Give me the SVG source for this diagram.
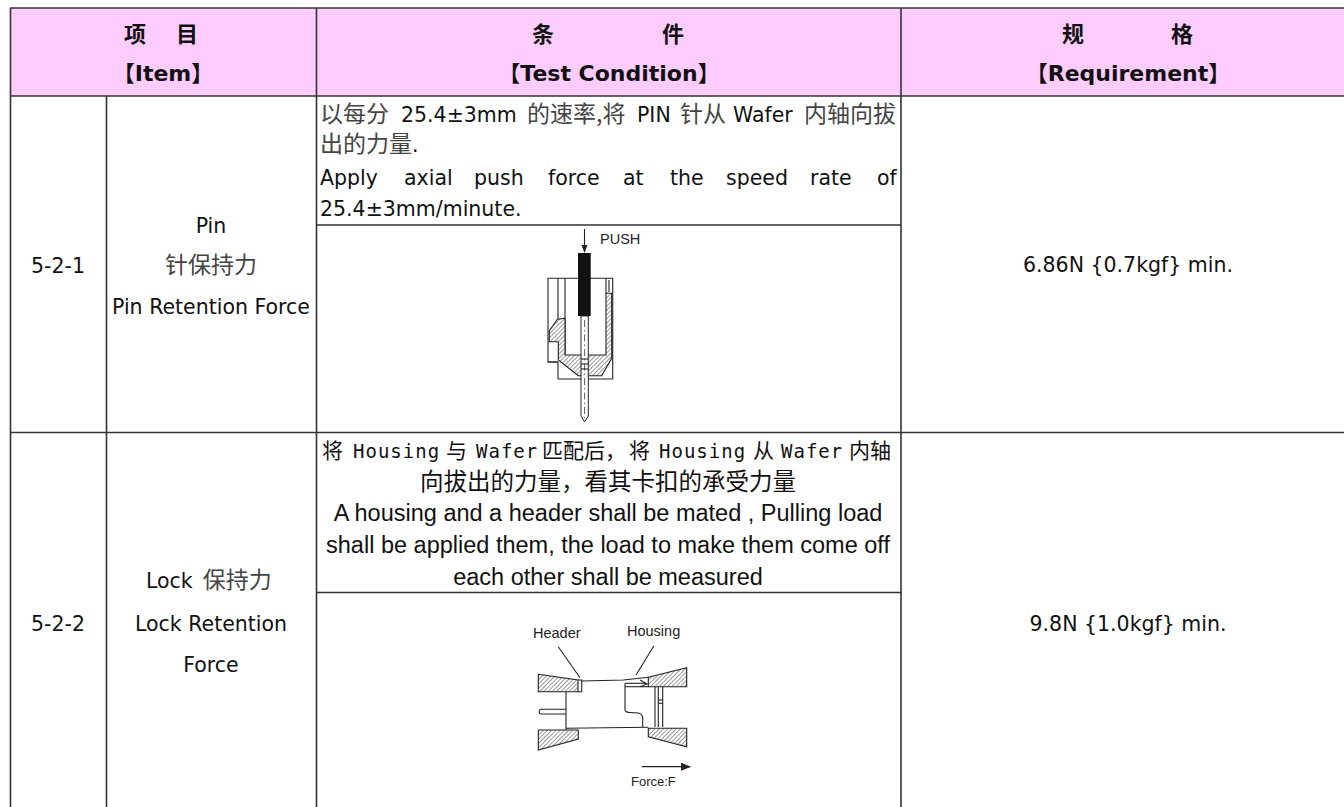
<svg xmlns="http://www.w3.org/2000/svg" width="1344" height="807" viewBox="0 0 1344 807">
<style>
.grid{stroke:#333;stroke-width:1.6;fill:none}
.t{font-family:"DejaVu Sans","Noto Sans CJK SC",sans-serif;font-size:20.5px;fill:#111}
.cn{font-family:"Noto Sans CJK SC",sans-serif;font-size:23px;fill:#444}
.hd{font-family:"DejaVu Sans","Noto Sans CJK SC",sans-serif;font-size:22px;font-weight:bold;fill:#111}
.hcn{font-family:"Noto Sans CJK SC",sans-serif;font-size:22px;font-weight:bold;fill:#111}
.ar{font-family:"Liberation Sans",Arial,"Noto Sans CJK SC",sans-serif;font-size:23.5px;fill:#111}
.mono{font-family:"DejaVu Sans Mono",monospace;font-size:19px;letter-spacing:1px;fill:#111}
.cn2{font-family:"Noto Sans CJK SC",sans-serif;font-size:21px;fill:#111}
.lbl{font-family:"Liberation Sans",Arial,sans-serif;font-size:14.5px;fill:#222}
.dw{stroke:#222;stroke-width:1.1;fill:none}
.hat{fill:url(#hatch);stroke:#222;stroke-width:1.1}
</style>
<defs>
<pattern id="hatch" patternUnits="userSpaceOnUse" width="3" height="3" patternTransform="rotate(45)">
<rect width="3" height="3" fill="#fff"/>
<line x1="0" y1="0" x2="0" y2="3" stroke="#333" stroke-width="1"/>
</pattern>
<marker id="ah" markerWidth="10" markerHeight="8" refX="9" refY="4" orient="auto" markerUnits="userSpaceOnUse">
<path d="M0,0 L10,4 L0,8 Z" fill="#222"/>
</marker>
</defs>

<g id="header">
<rect x="10.5" y="8" width="1350" height="88" fill="#FFCCFF"/>
<text class="hcn" x="135" y="42" text-anchor="middle">项</text>
<text class="hcn" x="187" y="42" text-anchor="middle">目</text>
<text class="hd" x="163" y="81" text-anchor="middle">【Item】</text>
<text class="hcn" x="543" y="42" text-anchor="middle">条</text>
<text class="hcn" x="673" y="42" text-anchor="middle">件</text>
<text class="hd" x="609" y="81" text-anchor="middle">【Test Condition】</text>
<text class="hcn" x="1073" y="42" text-anchor="middle">规</text>
<text class="hcn" x="1182" y="42" text-anchor="middle">格</text>
<text class="hd" x="1128" y="81" text-anchor="middle">【Requirement】</text>
</g>

<g id="grid">
<line class="grid" x1="10" y1="8" x2="1344" y2="8"/>
<line class="grid" x1="10" y1="96" x2="1344" y2="96"/>
<line class="grid" x1="10" y1="432.5" x2="1344" y2="432.5"/>
<line class="grid" x1="10.5" y1="8" x2="10.5" y2="807"/>
<line class="grid" x1="106.5" y1="96" x2="106.5" y2="807"/>
<line class="grid" x1="316.5" y1="8" x2="316.5" y2="807"/>
<line class="grid" x1="901" y1="8" x2="901" y2="807"/>
<line class="grid" x1="316.5" y1="225" x2="901" y2="225"/>
<line class="grid" x1="316.5" y1="592.5" x2="901" y2="592.5"/>
</g>

<g id="row-5-2-1">
<text class="t" x="58" y="273" text-anchor="middle">5-2-1</text>
<text class="t" x="211" y="233" text-anchor="middle">Pin</text>
<text class="cn" x="211" y="273" text-anchor="middle">针保持力</text>
<text class="t" x="211" y="314" text-anchor="middle">Pin Retention Force</text>
<text class="cn" x="320" y="122">以每分</text>
<text class="t" x="401" y="122">25.4±3mm</text>
<text class="cn" x="527" y="122">的速率,将</text>
<text class="t" x="637" y="122">PIN</text>
<text class="cn" x="680" y="122">针从</text>
<text class="t" x="733" y="122">Wafer</text>
<text class="cn" x="804" y="122">内轴向拔</text>
<text class="cn" x="320" y="152">出的力量<tspan class="t">.</tspan></text>
<text class="t" y="185"><tspan x="320">Apply</tspan><tspan x="404">axial</tspan><tspan x="474">push</tspan><tspan x="548">force</tspan><tspan x="623">at</tspan><tspan x="670">the</tspan><tspan x="726">speed</tspan><tspan x="810">rate</tspan><tspan x="877">of</tspan></text>
<text class="t" x="320" y="216">25.4±3mm/minute.</text>
<text class="t" x="1128" y="272" text-anchor="middle">6.86N {0.7kgf} min.</text>
</g>

<g id="pin-drawing">
<line class="dw" x1="584.5" y1="229" x2="584.5" y2="246"/>
<path d="M581.5,245 L587.5,245 L584.5,253 Z" fill="#222"/>
<text class="lbl" x="600" y="244">PUSH</text>
<path class="dw" d="M548,362 L548,278.3 L612.7,278.3 L612.7,379 L558,379 L558,362 Z"/>
<line class="dw" x1="548" y1="362" x2="558" y2="362"/>
<line class="dw" x1="558" y1="278.3" x2="558" y2="319"/>
<line class="dw" x1="565" y1="278.3" x2="565" y2="355"/>
<line class="dw" x1="606" y1="278.3" x2="606" y2="293.3"/>
<line class="dw" x1="609" y1="280" x2="609" y2="292"/>
<path class="hat" d="M565,318.3 L557.3,319.3 L549.3,331 L549.3,341.7 L558.3,341.7 L558.3,360 L578.3,375.7 L601.7,375.7 L611.7,358.3 L611.7,293.3 L606,293.3 L606,355 L565,355 Z"/>
<rect x="578" y="253" width="12.7" height="63" fill="#111"/>
<path d="M581,316 L588.3,316 L588.3,416 L584.6,422 L581,416 Z" fill="#fff" stroke="#222" stroke-width="1"/>
<line x1="584.6" y1="320" x2="584.6" y2="418" stroke="#333" stroke-width="0.8" stroke-dasharray="7 3 1.5 3"/>
<line class="dw" x1="581" y1="359" x2="588.3" y2="359"/>
<line class="dw" x1="581" y1="364" x2="588.3" y2="364"/>
<line class="dw" x1="581" y1="369" x2="588.3" y2="369"/>
</g>

<g id="row-5-2-2">
<text class="t" x="58" y="631" text-anchor="middle">5-2-2</text>
<text class="t" x="146" y="588">Lock<tspan class="cn" dx="10">保持力</tspan></text>
<text class="t" x="211" y="631" text-anchor="middle">Lock Retention</text>
<text class="t" x="211" y="672" text-anchor="middle">Force</text>
<text class="cn2" x="322" y="458">将</text>
<text class="mono" x="353" y="458">Housing</text>
<text class="cn2" x="446" y="458">与</text>
<text class="mono" x="476" y="458">Wafer</text>
<text class="cn2" x="542" y="458">匹配后，</text>
<text class="cn2" x="629" y="458">将</text>
<text class="mono" x="659" y="458">Housing</text>
<text class="cn2" x="753" y="458">从</text>
<text class="mono" x="781" y="458">Wafer</text>
<text class="cn2" x="849" y="458">内轴</text>
<text class="cn2" x="608" y="490" text-anchor="middle" style="font-size:23.5px">向拔出的力量，看其卡扣的承受力量</text>
<text class="ar" x="608" y="521" text-anchor="middle">A housing and a header shall be mated , Pulling load</text>
<text class="ar" x="608" y="553" text-anchor="middle">shall be applied them, the load to make them come off</text>
<text class="ar" x="608" y="585" text-anchor="middle">each other shall be measured</text>
<text class="t" x="1128" y="631" text-anchor="middle">9.8N {1.0kgf} min.</text>
</g>

<g id="lock-drawing">
<text class="lbl" x="533" y="638">Header</text>
<text class="lbl" x="627" y="636">Housing</text>
<line class="dw" x1="558.3" y1="646.7" x2="580" y2="677.7"/>
<line class="dw" x1="654" y1="645.7" x2="636" y2="675"/>
<path class="hat" d="M538.3,674.3 L578,680 L578,691.7 L538.3,691.7 Z"/>
<path class="dw" d="M578,680 L581.7,680 L581.7,691.7 L578,691.7"/>
<path class="dw" d="M581.7,681 L623.3,680 L648.3,677.3"/>
<line class="dw" x1="625" y1="683.3" x2="646" y2="683.3"/>
<line class="dw" x1="625" y1="686.7" x2="648.3" y2="686.7"/>
<path class="dw" d="M640,680 L647,684 L640,686.7"/>
<path class="hat" d="M648.3,677.3 L686.7,667.7 L686.7,686.7 L648.3,686.7 Z"/>
<line class="dw" x1="566" y1="691.7" x2="566" y2="730"/>
<path class="dw" d="M566,709.3 L541,709.3 A2.4,2.4 0 0 0 541,714 L566,714"/>
<line class="dw" x1="566" y1="728.3" x2="648.3" y2="727.3"/>
<path class="dw" d="M625,683.3 L625,710 Q626,712.5 630,712.5 L638,713 Q642.7,714 642.7,718 L642.7,727"/>
<line class="dw" x1="655" y1="686.7" x2="655" y2="727"/>
<line class="dw" x1="658.3" y1="686.7" x2="658.3" y2="727"/>
<line class="dw" x1="662.7" y1="686.7" x2="662.7" y2="727"/>
<line class="dw" x1="658.3" y1="700" x2="662.7" y2="700"/>
<line class="dw" x1="658.3" y1="703.3" x2="662.7" y2="703.3"/>
<path class="hat" d="M538.3,730 L578.3,730 L578.3,739 L538.3,750 Z"/>
<path class="hat" d="M648.3,728.3 L686.7,728.3 L686.7,746.7 L648.3,736.7 Z"/>
<line x1="641.7" y1="766.7" x2="690" y2="766.7" stroke="#222" stroke-width="1.3" marker-end="url(#ah)"/>
<text class="lbl" x="631" y="786" style="font-size:13px">Force:F</text>
</g>
</svg>
